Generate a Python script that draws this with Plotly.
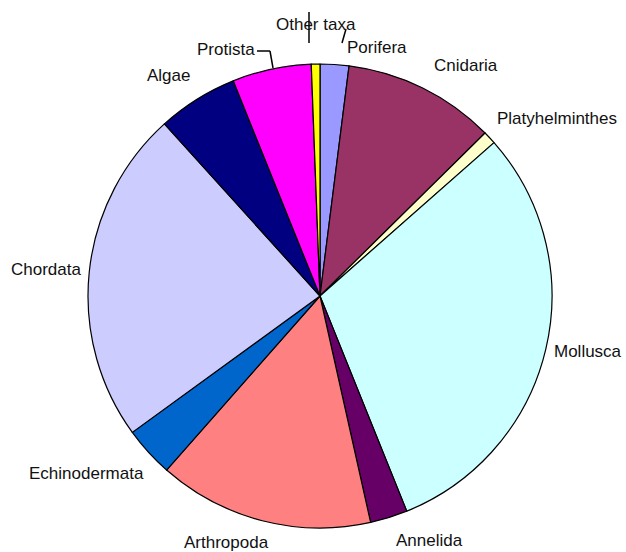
import plotly.graph_objects as go

W, H = 626, 552

categories = ["Porifera", "Cnidaria", "Platyhelminthes", "Mollusca", "Annelida",
              "Arthropoda", "Echinodermata", "Chordata", "Algae", "Protista", "Other taxa"]
values = [2.0, 10.6, 0.9, 30.4, 2.6, 15.0, 3.5, 23.3, 5.6, 5.5, 0.6]
colors = ["#9999FF", "#993366", "#FFFFCC", "#CCFFFF", "#660066",
          "#FF8080", "#0066CC", "#CCCCFF", "#000080", "#FF00FF", "#FFFF00"]

# label centre positions in pixels (x, y from top)
label_pos = {
    "Porifera": (377, 48), "Cnidaria": (466, 66), "Platyhelminthes": (557, 118),
    "Mollusca": (588, 352), "Annelida": (429, 540), "Arthropoda": (226, 542),
    "Echinodermata": (86, 473), "Chordata": (46, 269), "Algae": (168, 76),
    "Protista": (226, 50), "Other taxa": (316, 25),
}

def px(x, y):
    return x / W, 1 - y / H

cx, cy, r = 320, 296, 232
x0, y0 = px(cx - r, cy + r)
x1, y1 = px(cx + r, cy - r)

fig = go.Figure(go.Pie(
    labels=categories, values=values, sort=False, direction="clockwise", rotation=0,
    marker=dict(colors=colors, line=dict(color="black", width=1.2)),
    textinfo="none", hoverinfo="none", domain=dict(x=[x0, x1], y=[y0, y1]),
))

annotations = []
for name in categories:
    ax, ay = px(*label_pos[name])
    annotations.append(dict(x=ax, y=ay, xref="paper", yref="paper", text=name,
                            showarrow=False, xanchor="center", yanchor="middle",
                            font=dict(family="Liberation Sans, Arial", size=17, color="#111111")))

shapes = []
def seg(a, b):
    xa, ya = px(*a)
    xb, yb = px(*b)
    shapes.append(dict(type="line", xref="paper", yref="paper", x0=xa, y0=ya, x1=xb, y1=yb,
                       line=dict(color="black", width=1.5)))

seg((309, 12), (309, 43))
seg((346, 29), (342, 43))
seg((257, 51), (270, 51))
seg((270, 51), (273, 68))

fig.update_layout(width=W, height=H, margin=dict(l=0, r=0, t=0, b=0),
                  showlegend=False, paper_bgcolor="white", plot_bgcolor="white",
                  annotations=annotations, shapes=shapes)

fig.write_html("out.html", config={"displayModeBar": False},
               post_script="document.body.style.margin='0';")
